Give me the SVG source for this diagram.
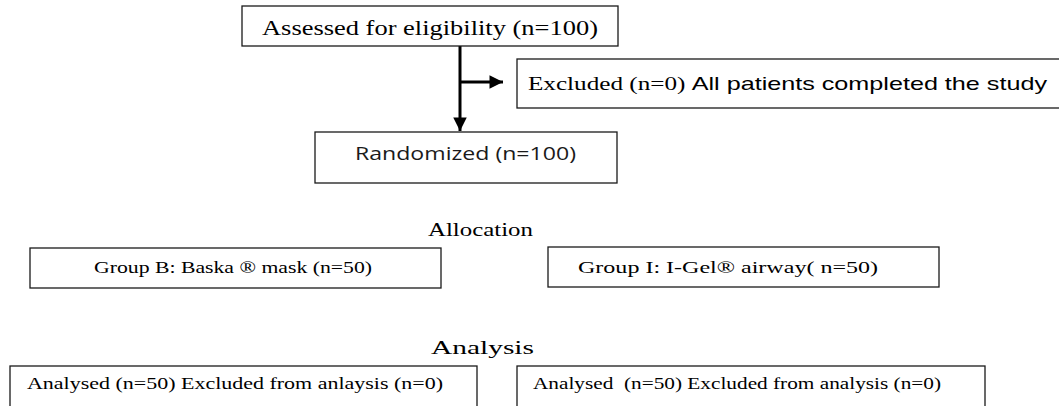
<svg xmlns="http://www.w3.org/2000/svg" width="1059" height="406" viewBox="0 0 1059 406">
<defs>
<style>
.box{fill:#fff;stroke:#1a1a1a;stroke-width:1.3}
.serif{font-family:"Liberation Serif","Times New Roman",serif;fill:#000}
.sans{font-family:"Liberation Sans",Arial,sans-serif;fill:#000}
.cal{font-family:"Open Sans","DejaVu Sans",sans-serif;fill:#1a1a1a}
.conn{stroke:#000;stroke-width:3;fill:none}
</style>
<marker id="ah" viewBox="0 0 10 10" refX="10" refY="5" markerWidth="4.7" markerHeight="4.5" markerUnits="strokeWidth" orient="auto">
<path d="M0,0 L10,5 L0,10 z" fill="#000"/>
</marker>
</defs>
<rect width="1059" height="406" fill="#fff"/>

<g id="connectors">
<line class="conn" x1="460" y1="46" x2="460" y2="131" marker-end="url(#ah)"/>
<line class="conn" x1="460" y1="82" x2="503" y2="82" marker-end="url(#ah)"/>
</g>

<g id="assessed">
<rect class="box" x="242" y="6" width="376" height="40"/>
<text class="serif" x="262" y="35" font-size="20" textLength="336" lengthAdjust="spacingAndGlyphs">Assessed for eligibility (n=100)</text>
</g>

<g id="excluded">
<rect class="box" x="517" y="59" width="560" height="49"/>
<text x="528" y="90" font-size="18.5" textLength="519" lengthAdjust="spacingAndGlyphs"><tspan class="serif">Excluded (n=0) </tspan><tspan class="sans">All patients completed the study</tspan></text>
</g>

<g id="randomized">
<rect class="box" x="315" y="132" width="302" height="51"/>
<text class="cal" x="355" y="160" font-size="18" textLength="221" lengthAdjust="spacingAndGlyphs">Randomized (n=100)</text>
</g>

<g id="allocation-label">
<text class="serif" x="428" y="236" font-size="18" textLength="105" lengthAdjust="spacingAndGlyphs">Allocation</text>
</g>

<g id="groupB">
<rect class="box" x="30" y="248" width="411" height="40"/>
<text class="serif" x="94" y="273" font-size="16" textLength="278" lengthAdjust="spacingAndGlyphs">Group B: Baska ® mask (n=50)</text>
</g>

<g id="groupI">
<rect class="box" x="548" y="247" width="391" height="40"/>
<text class="serif" x="578" y="273" font-size="16" textLength="300" lengthAdjust="spacingAndGlyphs">Group I: I-Gel® airway( n=50)</text>
</g>

<g id="analysis-label">
<text class="serif" x="431" y="354" font-size="18" textLength="103" lengthAdjust="spacingAndGlyphs">Analysis</text>
</g>

<g id="analysedB">
<rect class="box" x="10" y="366" width="467" height="60"/>
<text class="serif" x="27" y="389" font-size="17" textLength="416" lengthAdjust="spacingAndGlyphs">Analysed (n=50) Excluded from anlaysis (n=0)</text>
</g>

<g id="analysedI">
<rect class="box" x="517" y="366" width="468" height="60"/>
<text class="serif" x="533" y="389" font-size="17" textLength="408" lengthAdjust="spacingAndGlyphs" xml:space="preserve">Analysed  (n=50) Excluded from analysis (n=0)</text>
</g>
</svg>
